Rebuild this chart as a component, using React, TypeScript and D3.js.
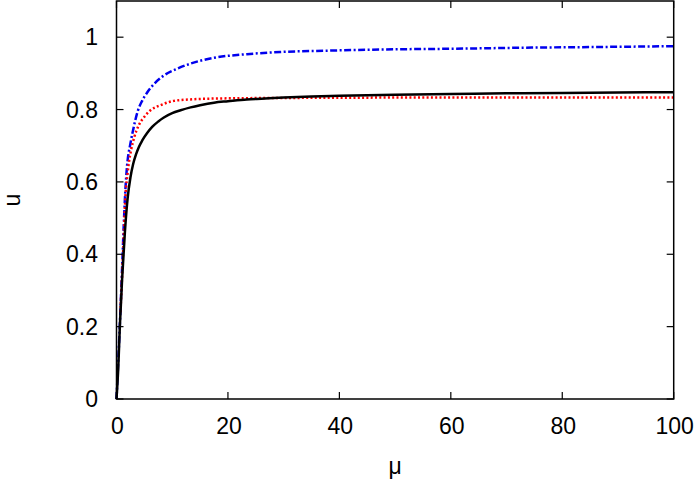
import React, { useEffect, useRef } from 'react';
import * as d3 from 'd3';

// black solid curve
const blackMu = [0, 0.3, 0.6, 1.0, 1.5, 2.0, 2.5, 3.0, 3.5, 4.0, 4.6, 5.5, 6.4, 7.5, 8.5, 10, 11.5, 13.3, 15, 17.5, 20, 23.4, 26, 30, 35, 40, 50, 60, 70, 80, 90, 100];
const blackU = [0, 0.08, 0.2, 0.33, 0.46, 0.555, 0.612, 0.65, 0.676, 0.696, 0.714, 0.735, 0.752, 0.767, 0.778, 0.79, 0.798, 0.806, 0.812, 0.819, 0.823, 0.828, 0.83, 0.833, 0.836, 0.838, 0.841, 0.843, 0.845, 0.846, 0.847, 0.848];

// red dotted curve
const redMu = [0.7, 1.0, 1.2, 1.6, 2.0, 2.2, 2.6, 3.2, 4.0, 4.9, 6.1, 7.9, 10.3, 13.3, 20, 30, 50, 75, 100];
const redU = [0.24, 0.34, 0.41, 0.56, 0.625, 0.651, 0.687, 0.724, 0.757, 0.778, 0.798, 0.812, 0.824, 0.828, 0.831, 0.832, 0.833, 0.833, 0.833];

// blue dash-dot curve
const blueMu = [0, 0.5, 1.0, 1.3, 1.6, 1.9, 2.5, 3.1, 3.8, 4.6, 5.5, 6.7, 8.5, 10.9, 13.3, 17.5, 23.4, 29.4, 38.4, 47.4, 60, 73.4, 87, 100];
const blueU = [0, 0.17, 0.36, 0.48, 0.58, 0.645, 0.706, 0.752, 0.795, 0.824, 0.847, 0.87, 0.894, 0.913, 0.927, 0.943, 0.953, 0.959, 0.963, 0.966, 0.968, 0.971, 0.973, 0.975];

const xTicks = [0, 20, 40, 60, 80, 100];
const yTicks = [0, 0.2, 0.4, 0.6, 0.8, 1];

const App = () => {
  const ref = useRef<SVGSVGElement | null>(null);

  useEffect(() => {
    const width = 699;
    const height = 481;
    const margin = { left: 116.5, right: 699 - 673.7, top: 1, bottom: 481 - 399 };
    const svg = d3.select(ref.current);
    svg.selectAll('*').remove();

    const x = d3.scaleLinear().domain([0, 100]).range([margin.left, width - margin.right]);
    const y = d3.scaleLinear().domain([0, 1.1]).range([height - margin.bottom, margin.top]);

    const font = 'Liberation Sans, Arial, Helvetica, sans-serif';
    const plot = svg.append('g');

    const line = d3.line<[number, number]>()
      .x(d => x(d[0]))
      .y(d => y(d[1]))
      .curve(d3.curveMonotoneX);

    const series = [
      { mu: blueMu, u: blueU, color: '#0000ee', dash: '7,2.5,2,2.5' },
      { mu: redMu, u: redU, color: '#ff0000', dash: '2,2.3' },
      { mu: blackMu, u: blackU, color: '#000000', dash: null },
    ];
    series.forEach(s => {
      const pts = s.mu.map((m, i) => [m, s.u[i]] as [number, number]);
      const p = plot.append('path')
        .attr('d', line(pts))
        .attr('fill', 'none')
        .attr('stroke', s.color)
        .attr('stroke-width', 2.5);
      if (s.dash) p.attr('stroke-dasharray', s.dash);
    });

    // frame
    const x0 = x(0), x1 = x(100), y0 = y(0), y1 = y(1.1);
    svg.append('rect')
      .attr('x', x0).attr('y', y1)
      .attr('width', x1 - x0).attr('height', y0 - y1)
      .attr('fill', 'none').attr('stroke', '#000').attr('stroke-width', 1.5);

    const tl = 7;
    xTicks.forEach(t => {
      svg.append('line').attr('x1', x(t)).attr('x2', x(t)).attr('y1', y0).attr('y2', y0 - tl).attr('stroke', '#000').attr('stroke-width', 1.2);
      svg.append('line').attr('x1', x(t)).attr('x2', x(t)).attr('y1', y1).attr('y2', y1 + tl).attr('stroke', '#000').attr('stroke-width', 1.2);
      svg.append('text')
        .attr('x', x(t) + 1)
        .attr('y', 426)
        .attr('dy', '0.35em')
        .attr('text-anchor', 'middle')
        .style('font-family', font)
        .style('font-size', '23px')
        .text(String(t));
    });
    yTicks.forEach(t => {
      svg.append('line').attr('x1', x0).attr('x2', x0 + tl).attr('y1', y(t)).attr('y2', y(t)).attr('stroke', '#000').attr('stroke-width', 1.2);
      svg.append('line').attr('x1', x1).attr('x2', x1 - tl).attr('y1', y(t)).attr('y2', y(t)).attr('stroke', '#000').attr('stroke-width', 1.2);
      svg.append('text')
        .attr('x', 98)
        .attr('y', y(t))
        .attr('dy', '0.35em')
        .attr('text-anchor', 'end')
        .style('font-family', font)
        .style('font-size', '23px')
        .text(String(t));
    });

    // axis labels
    svg.append('text')
      .attr('x', (x0 + x1) / 2)
      .attr('y', 466)
      .attr('dy', '0.35em')
      .attr('text-anchor', 'middle')
      .style('font-family', font)
      .style('font-size', '23px')
      .text('μ');
    svg.append('text')
      .attr('transform', `translate(13,${(y0 + y1) / 2}) rotate(-90)`)
      .attr('dy', '0.3em')
      .attr('text-anchor', 'middle')
      .style('font-family', font)
      .style('font-size', '23px')
      .text('u');
  }, []);

  return (
    <svg
      ref={ref}
      width={699}
      height={481}
      style={{ position: 'absolute', left: 0, top: 0, background: '#fff' }}
    />
  );
};

export default App;
